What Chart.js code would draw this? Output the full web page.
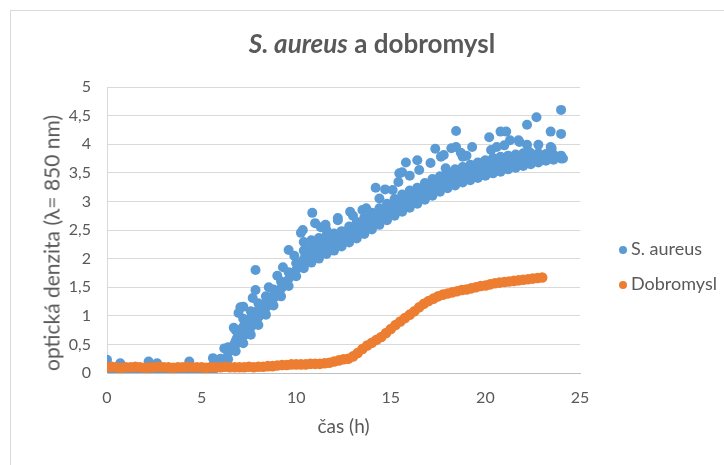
<!DOCTYPE html>
<html>
<head>
<meta charset="utf-8">
<script src="https://cdn.jsdelivr.net/npm/chart.js@4.4.1/dist/chart.umd.min.js"></script>
<style>
  body { margin: 0; background: #fff; }
  #wrap { position: relative; width: 724px; height: 465px; overflow: hidden; font-family: Lato, "Open Sans", sans-serif; color: #595959; }
  .frame { position: absolute; left: 10px; top: 10px; width: 800px; height: 500px; border: 1px solid #d9d9d9; }
  canvas { position: absolute; left: 0; top: 0; }
  .title { position: absolute; left: 0; top: 28px; width: 744px; text-align: center; font-size: 26px; line-height: 30px; font-weight: bold; }
  .ytitle { position: absolute; left: 51px; top: 243px; transform: translate(-50%, -50%) rotate(-90deg); white-space: nowrap; font-size: 21px; }
  .legend div { position: absolute; left: 619px; height: 20px; line-height: 20px; font-size: 18px; white-space: nowrap; }
  .legend span { display: inline-block; width: 8px; height: 8px; border-radius: 50%; margin-right: 4px; vertical-align: 1px; }
</style>
</head>
<body>
<div id="wrap">
  <div class="frame"></div>
  <canvas id="chart" width="724" height="465"></canvas>
  <div class="title"><i>S. aureus</i> a dobromysl</div>
  <div class="ytitle">optická denzita (λ= 850 nm)</div>
  <div class="legend">
    <div style="top:238px"><span style="background:#5b9bd5"></span>S. aureus</div>
    <div style="top:273px"><span style="background:#ed7d31"></span>Dobromysl</div>
  </div>
</div>
<script>
// tick labels
const timeTicks = ['0', '5', '10', '15', '20', '25'];
const odTicks = ['0', '0,5', '1', '1,5', '2', '2,5', '3', '3,5', '4', '4,5', '5'];

// S. aureus - lag phase (h, OD)
const lagTime = [0, 0.25, 0.5, 0.75, 1, 1.25, 1.5, 1.75, 2, 2.25, 2.5, 2.75, 3, 3.25, 3.5, 3.75, 4, 4.25, 4.5, 4.75, 5];
const lagOD = [0.04, 0.02, 0, 0.03, 0.01, 0.02, 0, 0.03, 0.01, 0.02, 0, 0.02, 0.03, 0.01, 0, 0.02, 0.01, 0.03, 0, 0.01, 0.02];

// S. aureus - dense growth band, lower and upper edge of the cloud
const bandTime = [5.2, 5.6, 6.0, 6.4, 6.8, 7.2, 7.6, 8.0, 8.4, 8.8, 9.2, 9.6, 10.0, 10.4, 10.8, 11.2,
  11.6, 12.0, 12.4, 12.8, 13.2, 13.6, 14.0, 14.4, 14.8, 15.2, 15.6, 16.0, 16.4, 16.8, 17.2, 17.6,
  18.0, 18.4, 18.8, 19.2, 19.6, 20.0, 20.4, 20.8, 21.2, 21.6, 22.0, 22.4, 22.8, 23.2, 23.6, 24.0];
const bandLow = [0, 0.03, 0.1, 0.24, 0.38, 0.52, 0.67, 0.84, 1.02, 1.18, 1.34, 1.52, 1.69, 1.83, 1.93, 2.0,
  2.08, 2.14, 2.21, 2.28, 2.35, 2.43, 2.51, 2.59, 2.67, 2.75, 2.82, 2.89, 2.96, 3.03, 3.1, 3.17,
  3.23, 3.28, 3.33, 3.37, 3.41, 3.45, 3.49, 3.52, 3.56, 3.59, 3.62, 3.65, 3.68, 3.71, 3.73, 3.75];
const bandHigh = [0.08, 0.14, 0.25, 0.45, 0.75, 0.95, 1.08, 1.22, 1.34, 1.46, 1.6, 1.76, 1.92, 2.14, 2.32, 2.36,
  2.4, 2.44, 2.48, 2.56, 2.64, 2.72, 2.8, 2.88, 2.96, 3.04, 3.12, 3.19, 3.24, 3.32, 3.39, 3.44,
  3.5, 3.56, 3.6, 3.64, 3.68, 3.72, 3.76, 3.78, 3.8, 3.82, 3.84, 3.84, 3.84, 3.83, 3.82, 3.8];

// S. aureus - points just above the band
const scatterTime = [11.55, 12.2, 13.0, 13.5, 14.4, 15.1, 15.6, 16.0, 17.65, 17.9, 18.2, 18.7, 18.8, 19.0, 19.9, 20.6, 21.0, 21.7, 21.8, 22.3, 23.5, 9.0, 9.9, 11.3];
const scatterOD = [2.59, 2.71, 2.75, 2.85, 3.05, 3.2, 3.51, 3.45, 3.78, 3.58, 3.93, 3.85, 3.55, 3.8, 3.69, 3.95, 3.98, 3.78, 4.04, 3.87, 3.93, 1.7, 2.05, 2.55];

// S. aureus - outliers
const outTime = [0, 0.7, 2.2, 2.65, 4.35, 5.6, 6.2, 6.7, 6.95, 7.05, 7.2, 7.7, 7.85, 7.85, 8.55, 9.3, 9.6, 10.25, 10.35, 10.4,
  10.85, 11.0, 11.6, 12.2, 12.85, 13.7, 14.2, 14.7, 15.4, 15.45, 15.8, 16.4, 16.5, 17.1, 17.35, 17.8, 18.45, 18.45,
  18.8, 19.3, 20.2, 20.3, 20.8, 21.1, 21.3, 21.75, 22.2, 22.2, 22.7, 22.8, 23.45, 23.45, 24.0, 24.0, 24.1];
const outOD = [0.23, 0.17, 0.2, 0.17, 0.2, 0.26, 0.43, 0.79, 1.05, 1.15, 1.16, 1.31, 1.8, 1.45, 1.5, 1.85, 2.15, 2.45, 2.5, 2.29,
  2.8, 2.62, 2.5, 2.67, 2.82, 2.88, 3.24, 3.21, 3.34, 3.49, 3.68, 3.72, 3.55, 3.67, 3.92, 3.81, 4.23, 3.95,
  3.78, 3.95, 4.12, 3.9, 4.22, 4.22, 4.07, 4.07, 4.34, 3.99, 4.47, 3.99, 3.95, 4.22, 4.6, 4.18, 3.75];

// Dobromysl (h, OD)
const dobroTime = [
  0, 0.25, 0.5, 0.75, 1, 1.25, 1.5, 1.75, 2, 2.25, 2.5, 2.75, 3, 3.25, 3.5, 3.75,
  4, 4.25, 4.5, 4.75, 5, 5.25, 5.5, 5.75, 6, 6.25, 6.5, 6.75, 7, 7.25, 7.5, 7.75,
  8, 8.25, 8.5, 8.75, 9, 9.25, 9.5, 9.75, 10, 10.25, 10.5, 10.75, 11, 11.25, 11.5, 11.75,
  12, 12.25, 12.5, 12.75, 13, 13.25, 13.5, 13.75, 14, 14.25, 14.5, 14.75, 15, 15.25, 15.5, 15.75,
  16, 16.25, 16.5, 16.75, 17, 17.25, 17.5, 17.75, 18, 18.25, 18.5, 18.75, 19, 19.25, 19.5, 19.75,
  20, 20.25, 20.5, 20.75, 21, 21.25, 21.5, 21.75, 22, 22.25, 22.5, 22.75, 23];
const dobroOD = [
  0.1, 0.11, 0.1, 0.09, 0.1, 0.1, 0.11, 0.1, 0.09, 0.1, 0.1, 0.11, 0.1, 0.1, 0.09, 0.1,
  0.1, 0.11, 0.1, 0.1, 0.1, 0.09, 0.1, 0.1, 0.1, 0.11, 0.1, 0.1, 0.1, 0.1, 0.11, 0.1,
  0.11, 0.11, 0.12, 0.12, 0.13, 0.14, 0.14, 0.15, 0.15, 0.15, 0.15, 0.16, 0.16, 0.16, 0.17, 0.18,
  0.2, 0.22, 0.24, 0.25, 0.29, 0.35, 0.42, 0.48, 0.53, 0.58, 0.63, 0.7, 0.77, 0.84, 0.9, 0.96,
  1.02, 1.08, 1.15, 1.21, 1.26, 1.3, 1.34, 1.37, 1.39, 1.41, 1.43, 1.45, 1.46, 1.48, 1.5, 1.52,
  1.53, 1.55, 1.57, 1.58, 1.59, 1.6, 1.61, 1.62, 1.63, 1.64, 1.65, 1.66, 1.67];

const BLUE = '#5b9bd5';
const ORANGE = '#ed7d31';
const grey = '#595959';
const fontFamily = 'Lato, "Open Sans", sans-serif';

function pairs(times, ods) {
  return times.map((t, i) => ({ x: t, y: ods[i] }));
}

const aureusLoose = [].concat(
  pairs(lagTime, lagOD),
  pairs(scatterTime, scatterOD),
  pairs(outTime, outOD)
);

// the dense part of the S. aureus cloud: edge points, area between them filled
const bandEdge = (data, fill, order) => ({
  type: 'line', label: 'S. aureus', data, fill, order,
  showLine: true, tension: 0, borderColor: BLUE, borderWidth: 1, backgroundColor: BLUE,
  pointRadius: 5, pointBorderWidth: 0, pointBackgroundColor: BLUE
});

new Chart(document.getElementById('chart'), {
  type: 'scatter',
  data: {
    datasets: [
      bandEdge(pairs(bandTime, bandHigh), '+1', 3),
      bandEdge(pairs(bandTime, bandLow), false, 2),
      { label: 'S. aureus', data: aureusLoose, backgroundColor: BLUE, borderWidth: 0, pointRadius: 5, order: 1 },
      { label: 'Dobromysl', data: pairs(dobroTime, dobroOD), backgroundColor: ORANGE, borderWidth: 0, pointRadius: 5.3, order: 0 }
    ]
  },
  options: {
    responsive: false,
    animation: false,
    devicePixelRatio: 1,
    layout: { padding: { top: 87, right: 144, bottom: 0, left: 0 } },
    plugins: { legend: { display: false }, tooltip: { enabled: false } },
    scales: {
      x: {
        type: 'linear', min: 0, max: 25,
        afterFit: s => { s.height = 92; },
        ticks: { stepSize: 5, color: grey, font: { family: fontFamily, size: 16 }, padding: 7, maxRotation: 0,
          callback: (v, i) => timeTicks[i] },
        grid: { display: false },
        border: { display: true, color: '#bfbfbf' },
        title: { display: true, text: 'čas (h)', color: grey,
          font: { family: fontFamily, size: 19 }, padding: { top: 0, bottom: 27 } }
      },
      y: {
        type: 'linear', min: 0, max: 5,
        afterFit: s => { s.width = 107; },
        ticks: { stepSize: 0.5, color: grey, font: { family: fontFamily, size: 16 }, padding: 16,
          callback: (v, i) => odTicks[i] },
        grid: { color: '#d9d9d9', drawTicks: false },
        border: { display: true, color: '#d9d9d9' }
      }
    }
  }
});
</script>
</body>
</html>
